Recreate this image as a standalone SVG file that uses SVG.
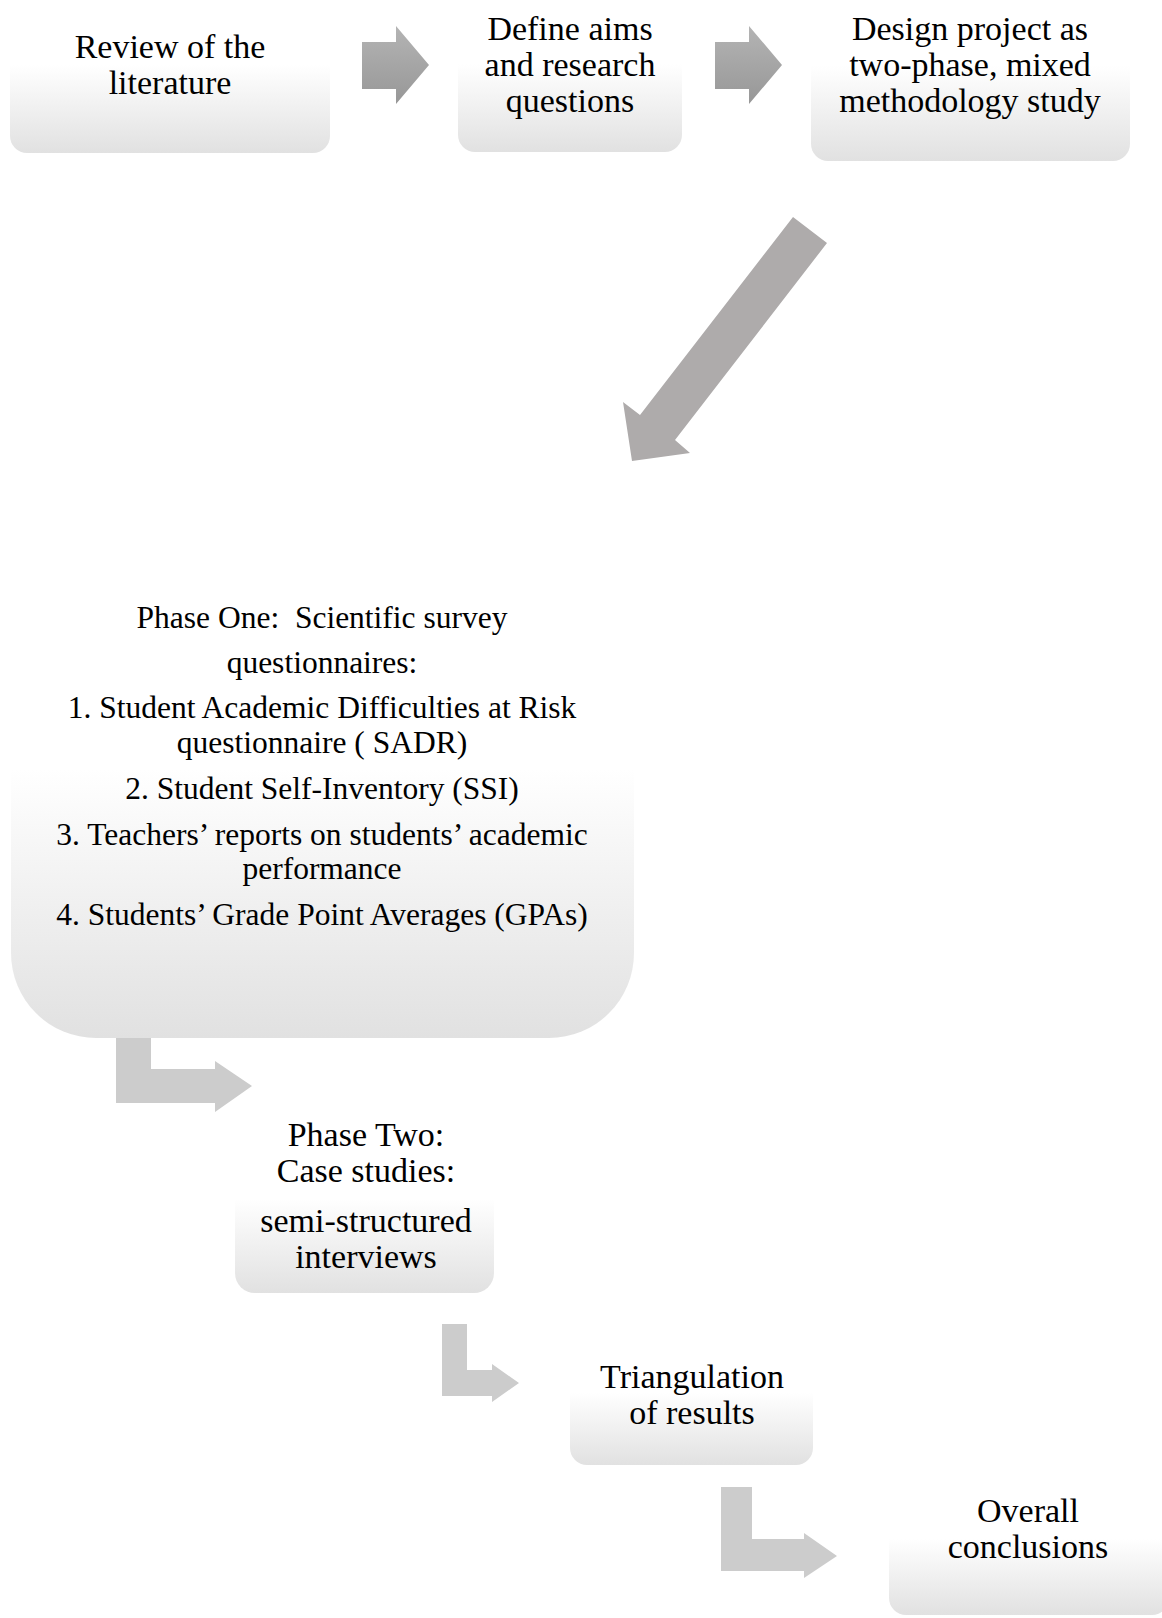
<svg xmlns="http://www.w3.org/2000/svg" width="1162" height="1618" viewBox="0 0 1162 1618">
<defs>
<linearGradient id="boxGrad" x1="0" y1="0" x2="0" y2="1">
<stop offset="0" stop-color="#ffffff"/>
<stop offset="0.5" stop-color="#ffffff"/>
<stop offset="1" stop-color="#e1e1e1"/>
</linearGradient>
<linearGradient id="arrowGrad" x1="0" y1="0" x2="0" y2="1">
<stop offset="0" stop-color="#b4b4b4"/>
<stop offset="1" stop-color="#979797"/>
</linearGradient>
</defs>
<style>
.box { fill: url(#boxGrad); }
.t { font-family: "Liberation Serif", "Times New Roman", serif; font-size: 34px; fill: #000; text-anchor: middle; }
.t2 { font-family: "Liberation Serif", "Times New Roman", serif; font-size: 31.5px; fill: #000; text-anchor: middle; }
.arr { fill: url(#arrowGrad); }
.diag { fill: #aeabab; }
.bent { fill: #cccccc; }
</style>
<rect width="1162" height="1618" fill="#ffffff"/>
<g id="connectors">
<polygon class="arr" points="362,42 396,42 396,26 429,65 396,104 396,89 362,89"/>
<polygon class="arr" points="715,42 749,42 749,26 782,65 749,104 749,89 715,89"/>
<polygon class="diag" points="793,217 827,243 675,440 690,453 632,461 623,402 640,415"/>
<polygon class="bent" points="116,1038 151,1038 151,1069 215,1069 215,1061 252,1086 215,1112 215,1103 116,1103"/>
<polygon class="bent" points="442,1324 467,1324 467,1370 492,1370 492,1364 519,1383 492,1402 492,1396 442,1396"/>
<polygon class="bent" points="721,1487 752,1487 752,1539 804,1539 804,1533 837,1556 804,1578 804,1571 721,1571"/>
</g>
<g id="node-review">
<rect class="box" x="10" y="-24" width="320" height="177" rx="17"/>
<text class="t" x="170" y="58">Review of the</text>
<text class="t" x="170" y="94">literature</text>
</g>
<g id="node-define">
<rect class="box" x="458" y="-24" width="224" height="176" rx="17"/>
<text class="t" x="570" y="40">Define aims</text>
<text class="t" x="570" y="76">and research</text>
<text class="t" x="570" y="112">questions</text>
</g>
<g id="node-design">
<rect class="box" x="811" y="-30" width="319" height="191" rx="17"/>
<text class="t" x="970" y="40">Design project as</text>
<text class="t" x="970" y="76">two-phase, mixed</text>
<text class="t" x="970" y="112">methodology study</text>
</g>
<g id="node-phase-one">
<rect class="box" x="11" y="500" width="623" height="538" rx="85"/>
<text class="t2" x="322" y="628" xml:space="preserve">Phase One:  Scientific survey</text>
<text class="t2" x="322" y="673">questionnaires:</text>
<text class="t2" x="322" y="718">1. Student Academic Difficulties at Risk</text>
<text class="t2" x="322" y="753">questionnaire ( SADR)</text>
<text class="t2" x="322" y="799">2. Student Self-Inventory (SSI)</text>
<text class="t2" x="322" y="845">3. Teachers’ reports on students’ academic</text>
<text class="t2" x="322" y="879">performance</text>
<text class="t2" x="322" y="925">4. Students’ Grade Point Averages (GPAs)</text>
</g>
<g id="node-phase-two">
<rect class="box" x="235" y="1105" width="259" height="188" rx="20"/>
<text class="t" x="366" y="1146">Phase Two:</text>
<text class="t" x="366" y="1182">Case studies:</text>
<text class="t" x="366" y="1232">semi-structured</text>
<text class="t" x="366" y="1268">interviews</text>
</g>
<g id="node-triangulation">
<rect class="box" x="570" y="1320" width="243" height="145" rx="17"/>
<text class="t" x="692" y="1388">Triangulation</text>
<text class="t" x="692" y="1424">of results</text>
</g>
<g id="node-conclusions">
<rect class="box" x="889" y="1462" width="280" height="153" rx="17"/>
<text class="t" x="1028" y="1522">Overall</text>
<text class="t" x="1028" y="1558">conclusions</text>
</g>
</svg>
